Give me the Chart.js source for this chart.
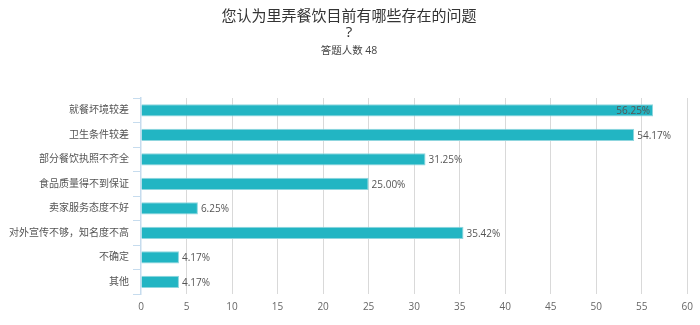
<!DOCTYPE html>
<html>
<head>
<meta charset="utf-8">
<script src="https://cdn.jsdelivr.net/npm/chart.js@4/dist/chart.umd.min.js"></script>
<style>
  html, body { margin: 0; padding: 0; background: #fff; }
  #wrap { width: 700px; height: 325px; }
</style>
</head>
<body>
<div id="wrap"><canvas id="c" width="700" height="325"></canvas></div>
<script>
// Survey: problems with lane-side restaurants (48 respondents)
const categories = [
  '就餐坏境较差',
  '卫生条件较差',
  '部分餐饮执照不齐全',
  '食品质量得不到保证',
  '卖家服务态度不好',
  '对外宣传不够，知名度不高',
  '不确定',
  '其他'
];
const percentages = [56.25, 54.17, 31.25, 25.00, 6.25, 35.42, 4.17, 4.17];
const xTicks = [0, 5, 10, 15, 20, 25, 30, 35, 40, 45, 50, 55, 60];

const FONT = "'Open Sans', 'Noto Sans CJK SC', sans-serif";

// Writes each percentage next to the end of its bar
const valueLabels = {
  id: 'valueLabels',
  afterDatasetsDraw(chart) {
    const ctx = chart.ctx;
    const meta = chart.getDatasetMeta(0);
    ctx.save();
    ctx.font = "10px " + FONT;
    ctx.fillStyle = '#555';
    ctx.textBaseline = 'middle';
    meta.data.forEach((bar, i) => {
      const v = percentages[i];
      const txt = v.toFixed(2) + '%';
      if (v > 55) {
        ctx.textAlign = 'right';
        ctx.fillText(txt, bar.x - 3, bar.y + 1);
      } else {
        ctx.textAlign = 'left';
        ctx.fillText(txt, bar.x + 3, bar.y + 1);
      }
    });
    ctx.restore();
  }
};

new Chart(document.getElementById('c'), {
  type: 'bar',
  data: {
    labels: categories,
    datasets: [{
      data: percentages,
      backgroundColor: '#22b5c3',
      borderColor: '#8fd6de',
      borderWidth: 1,
      borderSkipped: 'start',
      barPercentage: 0.5,
      categoryPercentage: 1.0
    }]
  },
  options: {
    indexAxis: 'y',
    responsive: false,
    animation: false,
    layout: { padding: { left: 0, right: 2, top: 0, bottom: 5 } },
    plugins: {
      legend: { display: false },
      tooltip: { enabled: false },
      title: {
        display: true,
        text: ['您认为里弄餐饮目前有哪些存在的问题', '?'],
        color: '#333',
        font: { family: FONT, size: 15, weight: 'normal', lineHeight: 1.1 },
        padding: { top: 8, bottom: 0 }
      },
      subtitle: {
        display: true,
        text: '答题人数 48',
        color: '#444',
        font: { family: FONT, size: 10.5, weight: 'normal', lineHeight: 1.0 },
        padding: { top: 5, bottom: 41.5 }
      }
    },
    scales: {
      x: {
        type: 'linear',
        min: 0,
        max: 60,
        afterBuildTicks(scale) {
          scale.ticks = xTicks.map(v => ({ value: v }));
        },
        grid: {
          color: ctx => (ctx.index === 0 ? 'rgba(0,0,0,0)' : '#d9d9d9'),
          drawTicks: false,
          lineWidth: 1
        },
        border: { display: false },
        ticks: {
          color: '#666',
          font: { family: FONT, size: 10 },
          padding: 7
        }
      },
      y: {
        afterFit(scale) { scale.width = 141; },
        grid: {
          offset: true,
          drawOnChartArea: false,
          drawTicks: true,
          tickLength: 8,
          color: '#c6dcee'
        },
        border: { display: true, color: '#c6dcee', width: 1.5 },
        ticks: {
          color: '#555',
          font: { family: FONT, size: 10 },
          padding: 4
        }
      }
    }
  },
  plugins: [valueLabels]
});
</script>
</body>
</html>
